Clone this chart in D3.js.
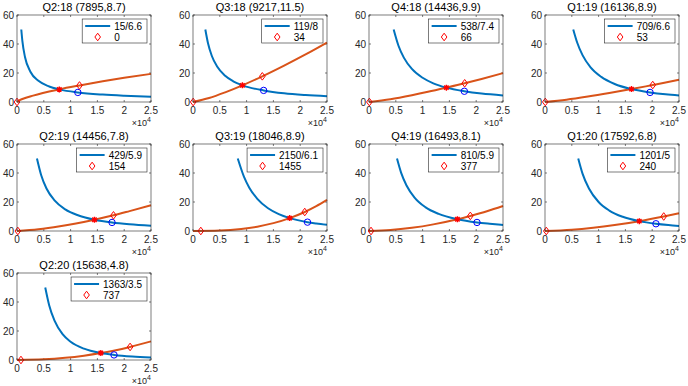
<!DOCTYPE html>
<html>
<head>
<meta charset="utf-8">
<script src="https://cdn.jsdelivr.net/npm/d3@7"></script>
<style>
body { margin: 0; background: #fff; }
svg { display: block; font-family: "Liberation Sans", Arial, sans-serif; }
</style>
</head>
<body>
<svg id="fig" width="688" height="386"></svg>
<script>
// quarter labels and the crossing point shown in each title
var titles = ["Q2:18", "Q3:18", "Q4:18", "Q1:19", "Q2:19", "Q3:19", "Q4:19", "Q1:20", "Q2:20"];
var crossX = [7895, 9217, 14436, 16136, 14456, 18046, 16493, 17592, 15638];
var crossY = [8.7, 11.5, 9.9, 8.9, 7.8, 8.9, 8.1, 6.8, 4.8];

// legend texts
var blueLabel = ["15/6.6", "119/8", "538/7.4", "709/6.6", "429/5.9", "2150/6.1", "810/5.9", "1201/5", "1363/3.5"];
var redLabel = [0, 34, 66, 53, 154, 1455, 377, 240, 737];

// open markers
var circleX = [11350, 13180, 17790, 19600, 17730, 21360, 20150, 20700, 18100];
var circleY = [6.6, 8, 7.4, 6.6, 5.9, 6.1, 5.9, 5, 3.5];
var diamondX = [11660, 12930, 17850, 20100, 18000, 20850, 18900, 22150, 21100];
var diamondY = [11.4, 17.7, 12.9, 11.7, 10.8, 13.1, 10.4, 10.0, 9.0];

// blue (falling) curves
var blueCurves = [
	[[800,50],[1000,42.1],[1500,30.9],[2500,20.9],[4000,14.6],[6000,10.7],[7895,8.7],[11350,6.6],[16000,5.1],[20000,4.3],[25000,3.6]],
	[[2300,50],[2800,40.5],[3500,31.9],[4500,24.5],[6000,18.1],[7500,14.3],[9217,11.5],[13180,8.0],[17000,6.0],[21000,4.8],[25000,4.0]],
	[[4600,50],[5500,38.8],[6500,30.6],[8000,22.8],[10000,16.7],[12000,12.9],[14436,9.9],[17790,7.4],[21000,5.8],[25000,4.55]],
	[[5270,50],[6000,41.0],[7000,32.3],[8500,23.9],[10500,17.3],[13000,12.4],[16136,8.9],[19600,6.6],[22500,5.3],[25000,4.5]],
	[[3720,50],[4500,38.6],[5500,29.3],[7000,21.1],[9000,14.9],[11500,10.7],[14456,7.8],[17730,5.9],[21000,4.7],[25000,3.7]],
	[[8350,50],[9500,37.5],[10500,29.9],[12000,22.2],[14000,15.7],[16000,11.65],[18046,8.9],[21360,6.1],[23000,5.2],[25000,4.3]],
	[[5220,50],[6000,40.1],[7000,31.4],[8500,23.1],[10500,16.5],[13000,11.8],[16493,8.1],[20150,5.9],[22500,5.0],[25000,4.2]],
	[[6200,50],[7000,39.6],[8200,29.3],[10000,20.0],[12000,14.1],[14500,9.8],[17592,6.8],[20700,5.0],[23000,4.1],[25000,3.5]],
	[[5270,50],[6000,37.8],[7000,27.1],[8500,17.8],[10000,12.6],[12500,7.8],[15638,4.8],[18100,3.5],[21500,2.4],[25000,1.75]]
];

// red (rising) curves
var redCurves = [
	[[0,0],[500,1.26],[1000,2.05],[3000,4.42],[7895,8.7],[11660,11.4],[16000,14.3],[20000,16.7],[25000,19.4]],
	[[0,0],[3000,2.77],[6000,6.68],[9217,11.5],[12930,17.7],[17000,25.1],[21000,32.8],[25000,41]],
	[[0,0],[4000,1.94],[8000,4.68],[11000,7.0],[14436,9.9],[17850,12.9],[21000,15.9],[25000,19.9]],
	[[0,0],[4000,1.58],[8000,3.73],[12000,6.17],[16136,8.9],[20100,11.7],[22500,13.4],[25000,15.3]],
	[[0,0],[4000,1.14],[8000,3.21],[11000,5.18],[14456,7.8],[18000,10.8],[21000,13.7],[25000,17.7]],
	[[0,0],[5000,0.28],[9000,1.37],[12000,2.97],[15000,5.41],[18046,8.9],[20850,13.1],[23000,17.1],[25000,21.4]],
	[[0,0],[4000,0.62],[8000,2.19],[12000,4.56],[16493,8.1],[18900,10.4],[22000,13.6],[25000,17.2]],
	[[0,0],[5000,0.84],[9000,2.23],[13000,4.11],[17592,6.8],[22150,10.0],[25000,12.2]],
	[[0,0],[5000,0.44],[9000,1.5],[12500,3.0],[15638,4.8],[18000,6.45],[21100,9.0],[25000,12.85]]
];

var xTicks = [0, 5000, 10000, 15000, 20000, 25000];
var yTicks = [0, 20, 40, 60];

var svg = d3.select("#fig");
var colLeft = [17, 193, 369, 545];
var rowTop = [15, 144, 273];
var w = 134, h = 87;
var txt = "#262626";
var blue = "#0072BD", red = "#D95319";

var x = d3.scaleLinear().domain([0, 25000]).range([0, w]);
var y = d3.scaleLinear().domain([0, 60]).range([h, 0]);
var line = d3.line().x(function(d){ return x(d[0]); }).y(function(d){ return y(d[1]); }).curve(d3.curveMonotoneX);

function diamond(s){
	return "M0," + (-s-1) + "L" + s + ",0L0," + (s+1) + "L" + (-s) + ",0Z";
}

for (var k = 0; k < titles.length; k++) {
	var gx = colLeft[k % 4], gy = rowTop[Math.floor(k / 4)];
	var g = svg.append("g").attr("transform", "translate(" + gx + "," + gy + ")");

	g.append("rect").attr("width", w).attr("height", h).attr("fill", "#fff");

	// ticks (inward, all four sides)
	xTicks.forEach(function(t){
		g.append("line").attr("x1", x(t)).attr("x2", x(t)).attr("y1", h).attr("y2", h - 2).attr("stroke", txt).attr("stroke-width", 0.6);
		g.append("line").attr("x1", x(t)).attr("x2", x(t)).attr("y1", 0).attr("y2", 2).attr("stroke", txt).attr("stroke-width", 0.6);
		g.append("text").attr("x", x(t)).attr("y", h + 12).attr("text-anchor", "middle")
			.attr("font-size", 10).attr("fill", txt).text(t / 10000);
	});
	yTicks.forEach(function(t){
		g.append("line").attr("x1", 0).attr("x2", 2).attr("y1", y(t)).attr("y2", y(t)).attr("stroke", txt).attr("stroke-width", 0.6);
		g.append("line").attr("x1", w).attr("x2", w - 2).attr("y1", y(t)).attr("y2", y(t)).attr("stroke", txt).attr("stroke-width", 0.6);
		g.append("text").attr("x", -3).attr("y", y(t) + 3.5).attr("text-anchor", "end")
			.attr("font-size", 10).attr("fill", txt).text(t);
	});

	var curves = g.append("g");
	curves.append("path").datum(redCurves[k]).attr("d", line).attr("fill", "none").attr("stroke", red).attr("stroke-width", 2);
	curves.append("path").datum(blueCurves[k]).attr("d", line).attr("fill", "none").attr("stroke", blue).attr("stroke-width", 2);

	// crossing point
	g.append("path").attr("transform", "translate(" + x(crossX[k]) + "," + y(crossY[k]) + ")")
		.attr("d", "M-3,0H3M0,-3V3M-2.2,-2.2L2.2,2.2M-2.2,2.2L2.2,-2.2")
		.attr("stroke", "#f00").attr("stroke-width", 1.4);

	// open markers
	g.append("circle").attr("cx", x(circleX[k])).attr("cy", y(circleY[k])).attr("r", 3.2)
		.attr("fill", "none").attr("stroke", "#0000ff").attr("stroke-width", 1);
	[[redLabel[k], 0], [diamondX[k], diamondY[k]]].forEach(function(p){
		g.append("path").attr("transform", "translate(" + x(p[0]) + "," + y(p[1]) + ")").attr("d", diamond(2.8))
			.attr("fill", "none").attr("stroke", "#ff0000").attr("stroke-width", 1);
	});

	// box
	g.append("rect").attr("width", w).attr("height", h).attr("fill", "none").attr("stroke", txt).attr("stroke-width", 0.6);

	// title
	g.append("text").attr("x", w / 2).attr("y", -4).attr("text-anchor", "middle")
		.attr("font-size", 11).attr("fill", "#000").text(titles[k] + " (" + crossX[k] + "," + crossY[k] + ")");

	// x10^4 multiplier
	var mult = g.append("text").attr("x", w).attr("y", h + 24).attr("text-anchor", "end").attr("font-size", 9).attr("fill", txt);
	mult.append("tspan").text("\u00d710");
	mult.append("tspan").attr("dy", -4).attr("font-size", 7).text("4");

	// legend
	var lg = g.append("g");
	var t1 = lg.append("text").attr("font-size", 10).attr("fill", "#000").text(blueLabel[k]);
	var t2 = lg.append("text").attr("font-size", 10).attr("fill", "#000").text(redLabel[k]);
	var tw = Math.max(t1.node().getComputedTextLength(), t2.node().getComputedTextLength());
	var lw = 3 + 25 + 4 + tw + 5, lh = 24;
	var lx = w - 4 - lw, ly = 4;
	lg.insert("rect", "text").attr("x", lx).attr("y", ly).attr("width", lw).attr("height", lh)
		.attr("fill", "#fff").attr("stroke", txt).attr("stroke-width", 0.6);
	lg.append("line").attr("x1", lx + 3).attr("x2", lx + 28).attr("y1", ly + 7).attr("y2", ly + 7)
		.attr("stroke", blue).attr("stroke-width", 2);
	lg.append("path").attr("transform", "translate(" + (lx + 15.5) + "," + (ly + 18) + ")").attr("d", diamond(2.8))
		.attr("fill", "none").attr("stroke", "#ff0000").attr("stroke-width", 1);
	t1.attr("x", lx + 32).attr("y", ly + 10.5);
	t2.attr("x", lx + 32).attr("y", ly + 21.5);
}
</script>
</body>
</html>
